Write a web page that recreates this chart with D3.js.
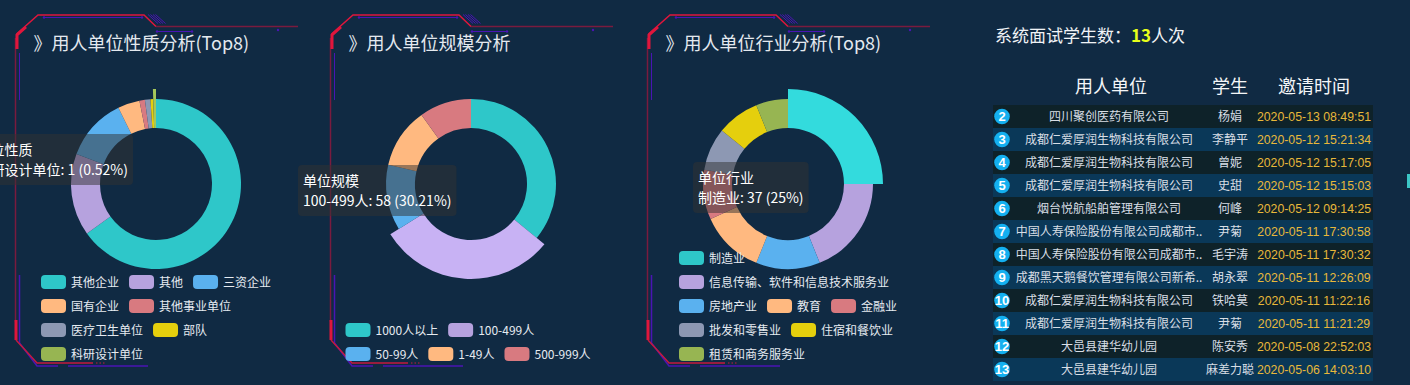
<!DOCTYPE html>
<html>
<head>
<meta charset="utf-8">
<style>
  body { margin: 0; background: #102a43; }
  svg { display: block; font-family: "Microsoft YaHei", "Noto Sans CJK SC", sans-serif; }
</style>
</head>
<body>
<div id="chart"></div>
<script src="https://cdnjs.cloudflare.com/ajax/libs/d3/7.8.5/d3.min.js"></script>
<script>
  var width = 1410, height = 385;

  // macarons palette
  var palette = ["#2ec7c9", "#b6a2de", "#5ab1ef", "#ffb980", "#d87a80", "#8d98b3", "#e5cf0d", "#97b552"];

  // 用人单位性质 (Top8)
  var natureNames = ["其他企业", "其他", "三资企业", "国有企业", "其他事业单位", "医疗卫生单位", "部队", "科研设计单位"];
  var natureValues = [125, 30, 23, 8, 2, 2, 1, 1];

  // 用人单位规模
  var scaleNames = ["1000人以上", "100-499人", "50-99人", "1-49人", "500-999人"];
  var scaleValues = [69, 58, 24, 22, 19];

  // 用人单位行业 (Top8)
  var industryNames = ["制造业", "信息传输、软件和信息技术服务业", "房地产业", "教育", "金融业", "批发和零售业", "住宿和餐饮业", "租赁和商务服务业"];
  var industryValues = [37, 28, 18, 18, 14, 12, 12, 9];

  // 面试列表
  var interviewTotal = 13;
  var rowIndex = [2, 3, 4, 5, 6, 7, 8, 9, 10, 11, 12, 13];
  var rowCompany = ["四川聚创医药有限公司", "成都仁爱厚润生物科技有限公司", "成都仁爱厚润生物科技有限公司",
    "成都仁爱厚润生物科技有限公司", "烟台悦航船舶管理有限公司", "中国人寿保险股份有限公司成都市..",
    "中国人寿保险股份有限公司成都市..", "成都黑天鹅餐饮管理有限公司新希..", "成都仁爱厚润生物科技有限公司",
    "成都仁爱厚润生物科技有限公司", "大邑县建华幼儿园", "大邑县建华幼儿园"];
  var rowStudent = ["杨娟", "李静平", "曾妮", "史甜", "何峰", "尹菊", "毛宇涛", "胡永翠", "铁哈莫", "尹菊", "陈安秀", "麻差力聪"];
  var rowTime = ["2020-05-13 08:49:51", "2020-05-12 15:21:34", "2020-05-12 15:17:05", "2020-05-12 15:15:03",
    "2020-05-12 09:14:25", "2020-05-11 17:30:58", "2020-05-11 17:30:32", "2020-05-11 12:26:09",
    "2020-05-11 11:22:16", "2020-05-11 11:21:29", "2020-05-08 22:52:03", "2020-05-06 14:03:10"];

  var panels = [
    { left: 0, title: "》用人单位性质分析(Top8)", names: natureNames, values: natureValues,
      tipName: "单位性质", active: 7, legendX: 41, tip: { right: 133, top: 134 } },
    { left: 315, title: "》用人单位规模分析", names: scaleNames, values: scaleValues,
      tipName: "单位规模", active: 1, legendX: 30.5, tip: { left: 298, top: 165 } },
    { left: 632, title: "》用人单位行业分析(Top8)", names: industryNames, values: industryValues,
      tipName: "单位行业", active: 0, legendX: 47, tip: { left: 693, top: 162 } }
  ];

  var svg = d3.select("#chart").append("svg")
    .attr("width", width)
    .attr("height", height);

  svg.append("rect").attr("width", width).attr("height", height).attr("fill", "#102a43");

  function lift(c) {
    var k = d3.rgb(c);
    return d3.rgb(Math.min(255, k.r * 1.1), Math.min(255, k.g * 1.1), Math.min(255, k.b * 1.1)).formatHex();
  }

  // sci-fi corner frame around each panel
  function drawFrame(ox) {
    var g = svg.append("g").attr("transform", "translate(" + ox + ",0)").attr("fill", "none");
    var red = "#e0163c", darkRed = "#7a1b3e", purple = "#4a14b4";

    g.append("path").attr("d", "M15.5,38V322").attr("stroke", darkRed).attr("stroke-width", 1.5);
    g.append("path").attr("d", "M16.5,34L38,15H144L156,26.5").attr("stroke", red).attr("stroke-width", 1.5);
    g.append("path").attr("d", "M17,49V35L26,27").attr("stroke", red).attr("stroke-width", 3);
    g.append("path").attr("d", "M156,26.5H298").attr("stroke", darkRed).attr("stroke-width", 1.5);

    g.append("path").attr("d", "M44,17.5H142").attr("stroke", purple).attr("stroke-width", 1);
    g.append("path").attr("d", "M157,31.5H192").attr("stroke", purple).attr("stroke-width", 1);
    for (var i = 0; i < 4; i++) {
      g.append("path").attr("d", "M" + (148 + i * 2.5) + ",14.5l" + 10 + "," + 9)
        .attr("stroke", purple).attr("stroke-width", 1);
    }
    [[44, 17.5], [142, 17.5], [157, 31.5], [192, 31.5], [278, 30]].forEach(function (p) {
      g.append("circle").attr("cx", p[0]).attr("cy", p[1]).attr("r", 1.2).attr("fill", purple);
    });

    g.append("path").attr("d", "M19.5,53V100").attr("stroke", purple).attr("stroke-width", 1);
    g.append("path").attr("d", "M19.5,275V343L37,366H58M68,366H148").attr("stroke", purple).attr("stroke-width", 1.5);

    g.append("path").attr("d", "M16,320V340").attr("stroke", red).attr("stroke-width", 3);
    g.append("path").attr("d", "M16,340L37,363H93").attr("stroke", "#c41a3e").attr("stroke-width", 1.5);
    g.append("path").attr("d", "M96,363H106").attr("stroke", "#c41a3e").attr("stroke-width", 1)
      .attr("stroke-dasharray", "1.5,2");
  }

  var innerR = 56, outerR = 85, activeR = 95, cy = 184;
  var pie = d3.pie().sort(null).value(function (d) { return d.value; });
  var arc = d3.arc().innerRadius(innerR).outerRadius(outerR);
  var arcActive = d3.arc().innerRadius(innerR).outerRadius(activeR);

  panels.forEach(function (p) {
    drawFrame(p.left);

    svg.append("text")
      .attr("x", p.left + 33.5)
      .attr("y", 50)
      .attr("fill", "#e4e9ef")
      .attr("font-size", 18)
      .text(p.title);

    var data = p.names.map(function (n, i) { return { name: n, value: p.values[i] }; });
    var color = d3.scaleOrdinal().domain(p.names).range(palette);
    var total = d3.sum(p.values);

    var donut = svg.append("g").attr("transform", "translate(" + (p.left + 156) + "," + cy + ")");
    donut.selectAll("path")
      .data(pie(data))
      .enter().append("path")
      .attr("d", function (d, i) { return i === p.active ? arcActive(d) : arc(d); })
      .attr("fill", function (d, i) {
        var c = color(d.data.name);
        return i === p.active ? lift(c) : c;
      });

    // legend, wrapped and bottom aligned
    var lg = svg.append("g");
    var items = [], x = p.left + p.legendX, row = 0, limit = p.left + 300;
    data.forEach(function (d) {
      var t = lg.append("text").attr("font-size", 12).attr("fill", "#e6ebf1").text(d.name);
      var w = 30 + t.node().getComputedTextLength();
      if (x + w > limit && x > p.left + p.legendX) {
        row += 1;
        x = p.left + p.legendX;
      }
      items.push({ d: d, t: t, x: x, row: row });
      x += w + 10;
    });
    items.forEach(function (it) {
      var y = 354 - (row - it.row) * 24;
      lg.append("rect")
        .attr("x", it.x).attr("y", y - 7)
        .attr("width", 25).attr("height", 14)
        .attr("rx", 4)
        .attr("fill", color(it.d.name));
      it.t.attr("x", it.x + 30).attr("y", y + 4.5);
    });

    // tooltip of the highlighted slice
    var act = data[p.active];
    var pct = +(act.value / total * 100).toFixed(2);
    var tg = svg.append("g");
    var bg = tg.append("rect");
    var l1 = tg.append("text").attr("font-size", 14).attr("fill", "#fff").text(p.tipName);
    var l2 = tg.append("text").attr("font-size", 14).attr("fill", "#fff")
      .text(act.name + ": " + act.value + " (" + pct + "%)");
    var tw = Math.max(l1.node().getComputedTextLength(), l2.node().getComputedTextLength()) + 10;
    var tx = p.tip.left !== undefined ? p.tip.left : p.tip.right - tw;
    bg.attr("x", tx).attr("y", p.tip.top)
      .attr("width", tw).attr("height", 51)
      .attr("rx", 4)
      .attr("fill", "rgba(50,50,50,0.5)");
    l1.attr("x", tx + 5).attr("y", p.tip.top + 20.5);
    l2.attr("x", tx + 5).attr("y", p.tip.top + 40.5);
  });

  // right side: interview list
  var head = svg.append("text")
    .attr("x", 995).attr("y", 42)
    .attr("font-size", 17)
    .attr("fill", "#f0f3f6");
  head.append("tspan").text("系统面试学生数：");
  head.append("tspan").attr("fill", "#e8ff1a").attr("font-weight", "bold").text(interviewTotal);
  head.append("tspan").text("人次");

  var cols = [
    { x: 1111, label: "用人单位" },
    { x: 1230, label: "学生" },
    { x: 1314, label: "邀请时间" }
  ];
  svg.selectAll(".colhead")
    .data(cols)
    .enter().append("text")
    .attr("class", "colhead")
    .attr("x", function (d) { return d.x; })
    .attr("y", 93)
    .attr("text-anchor", "middle")
    .attr("font-size", 18)
    .attr("fill", "#f4f6f8")
    .text(function (d) { return d.label; });

  var rowY = d3.scaleBand().domain(rowIndex).range([105, 105 + rowIndex.length * 23]);
  var rows = svg.selectAll(".row")
    .data(rowIndex)
    .enter().append("g")
    .attr("class", "row")
    .attr("transform", function (d) { return "translate(0," + rowY(d) + ")"; });

  rows.append("rect")
    .attr("x", 993).attr("width", 380)
    .attr("height", rowY.bandwidth())
    .attr("fill", function (d) { return d % 2 === 0 ? "#0e2229" : "#0a3858"; });

  var mid = rowY.bandwidth() / 2;
  rows.append("circle")
    .attr("cx", 1002).attr("cy", mid).attr("r", 7.8)
    .attr("fill", "#14b0f0");
  rows.append("text")
    .attr("x", 1002).attr("y", mid + 4.5)
    .attr("text-anchor", "middle")
    .attr("font-family", "'Liberation Sans', Arial, sans-serif")
    .attr("font-weight", "bold")
    .attr("font-size", 13)
    .attr("fill", "#fff")
    .text(function (d) { return d; });

  rows.append("text")
    .attr("x", 1109).attr("y", mid + 4.5)
    .attr("text-anchor", "middle")
    .attr("font-size", 12)
    .attr("fill", "#d8dee5")
    .text(function (d, i) { return rowCompany[i]; });
  rows.append("text")
    .attr("x", 1230).attr("y", mid + 4.5)
    .attr("text-anchor", "middle")
    .attr("font-size", 12)
    .attr("fill", "#d8dee5")
    .text(function (d, i) { return rowStudent[i]; });
  rows.append("text")
    .attr("x", 1314).attr("y", mid + 4.5)
    .attr("text-anchor", "middle")
    .attr("font-family", "'Liberation Sans', Arial, sans-serif")
    .attr("font-size", 12.3)
    .attr("fill", "#e8b83a")
    .text(function (d, i) { return rowTime[i]; });

  // scrollbar stub
  svg.append("rect").attr("x", 1407).attr("y", 174).attr("width", 3).attr("height", 14).attr("fill", "#3cc6c6");
</script>
</body>
</html>
